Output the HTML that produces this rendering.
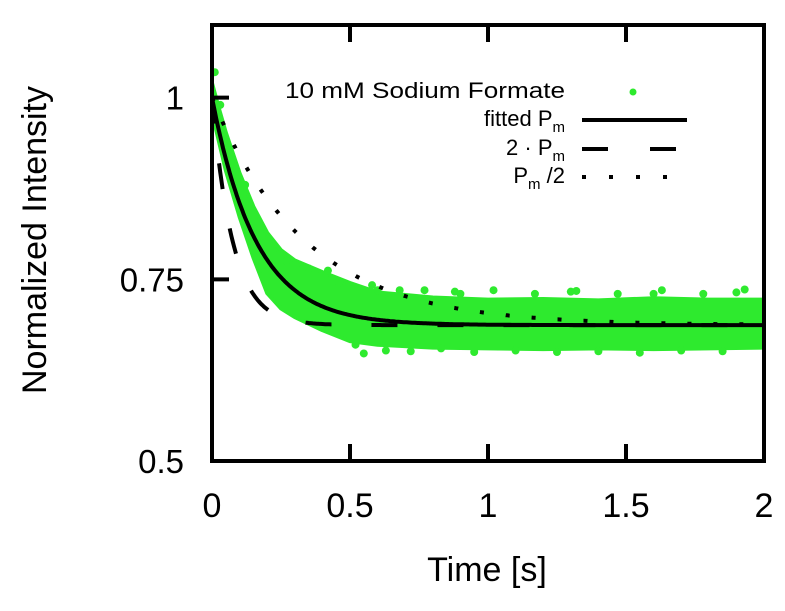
<!DOCTYPE html>
<html><head><meta charset="utf-8"><style>
body{margin:0;background:#fff}
svg{display:block;font-family:"Liberation Sans",sans-serif}
</style></head><body>
<svg id="chart" width="785" height="611" viewBox="0 0 785 611"></svg>
<script>
// data
const xTicks=[0,0.5,1,1.5,2];
const xTickLabels=["0","0.5","1","1.5","2"];
const yTicks=[0.5,0.75,1];
const yTickLabels=["0.5","0.75","1"];
const bandT=[0,0.025,0.05,0.1,0.15,0.2,0.25,0.3,0.4,0.5,0.6,0.8,1.0,1.2,1.4,1.6,1.8,2.0];
const bandUpper=[1.02,0.985,0.952,0.896,0.85,0.814,0.79,0.776,0.76,0.745,0.732,0.725,0.722,0.723,0.721,0.724,0.722,0.722];
const bandLower=[0.98,0.94,0.90,0.836,0.78,0.731,0.71,0.698,0.68,0.665,0.66,0.656,0.655,0.654,0.655,0.654,0.655,0.656];
const ptT=[0.01,0.03,0.12,0.18,0.22,0.27,0.33,0.35,0.42,0.46,0.52,0.55,0.58,0.63,0.68,0.72,0.77,0.83,0.88,0.95,1.02,1.1,1.17,1.25,1.32,1.4,1.47,1.55,1.63,1.7,1.78,1.85,1.93,0.6,0.9,1.3,1.6,1.9];
const ptV=[1.035,0.99,0.88,0.81,0.79,0.775,0.765,0.765,0.762,0.745,0.66,0.648,0.742,0.652,0.735,0.651,0.735,0.655,0.733,0.65,0.735,0.652,0.73,0.65,0.734,0.651,0.73,0.649,0.735,0.652,0.73,0.651,0.736,0.735,0.73,0.733,0.73,0.732];
const fitPlateau=[0.687];
const fitTau=[0.16,0.075,0.34]; // fitted, 2*Pm, Pm/2
const fitStart=[1.0];

const svg=document.getElementById('chart');
const NS='http://www.w3.org/2000/svg';
const L=212,R=764,T=25,B=461;
const X0=0,X1=2,Y0=0.5,Y1=1.1;
const sx=t=>L+(t-X0)/(X1-X0)*(R-L);
const sy=v=>B-(v-Y0)/(Y1-Y0)*(B-T);
function el(tag,attrs,parent){const e=document.createElementNS(NS,tag);for(const k in attrs)e.setAttribute(k,attrs[k]);(parent||svg).appendChild(e);return e;}

const clip=el('clipPath',{id:'pc'});el('rect',{x:L,y:T,width:R-L,height:B-T},clip);
const g=el('g',{'clip-path':'url(#pc)'});
const GREEN='#2eea2e';

let pts=bandT.map((t,i)=>sx(t)+','+sy(bandUpper[i]));
for(let i=bandT.length-1;i>=0;i--)pts.push(sx(bandT[i])+','+sy(bandLower[i]));
const band=el('polygon',{points:pts.join(' '),fill:GREEN,stroke:GREEN,'stroke-width':4,'stroke-linejoin':'round'},g);


ptT.forEach((t,i)=>{const c=el('circle',{cx:sx(t),cy:sy(ptV[i]),r:4,fill:GREEN},g);

});

function curve(tau){let d='';for(let i=0;i<=400;i++){const t=i/200;const v=fitPlateau[0]+(fitStart[0]-fitPlateau[0])*Math.exp(-t/tau);d+=(i?'L':'M')+sx(t).toFixed(1)+','+sy(v).toFixed(1);}return d;}
const dotted=el('path',{d:curve(fitTau[2]),fill:'none',stroke:'#000','stroke-width':4,'stroke-dasharray':'4 22'},g);


const dashed=el('path',{d:curve(fitTau[1]),fill:'none',stroke:'#000','stroke-width':4,'stroke-dasharray':'26 40'},g);


const solid=el('path',{d:curve(fitTau[0]),fill:'none',stroke:'#000','stroke-width':4},g);



const fr=el('rect',{x:L,y:T,width:R-L,height:B-T,fill:'none',stroke:'#000','stroke-width':4});



xTicks.forEach((t,i)=>{
  if(t>X0&&t<X1){el('line',{x1:sx(t),x2:sx(t),y1:B,y2:B-17,stroke:'#000','stroke-width':4});el('line',{x1:sx(t),x2:sx(t),y1:T,y2:T+17,stroke:'#000','stroke-width':4});}
  const tx=el('text',{x:sx(t),y:517,'font-size':34,'text-anchor':'middle',fill:'#000'});tx.textContent=xTickLabels[i];
  
  
});
yTicks.forEach((v,i)=>{
  if(v>Y0){el('line',{x1:L,x2:L+17,y1:sy(v),y2:sy(v),stroke:'#000','stroke-width':4});}
  const tx=el('text',{x:184,y:sy(v)+12,'font-size':33,'text-anchor':'end',fill:'#000'});tx.textContent=yTickLabels[i];
  
  
});
const xt=el('text',{x:487,y:581,'font-size':34,'text-anchor':'middle'});xt.textContent='Time [s]';


const yt=el('text',{x:0,y:0,'font-size':34,'text-anchor':'middle',transform:'translate(46,240) rotate(-90)'});yt.textContent='Normalized Intensity';



const lg=el('g',{});


const lt1=el('text',{x:565,y:98,'font-size':22,'text-anchor':'end',textLength:280,lengthAdjust:'spacingAndGlyphs'},lg);lt1.textContent='10 mM Sodium Formate';
el('circle',{cx:633,cy:92,r:3.5,fill:GREEN},lg);
const lt2=el('text',{x:565,y:126,'font-size':22,'text-anchor':'end'},lg);lt2.innerHTML='fitted P<tspan font-size="15" dy="6">m</tspan>';
el('line',{x1:582,x2:687,y1:120,y2:120,stroke:'#000','stroke-width':4},lg);
const lt3=el('text',{x:565,y:155,'font-size':22,'text-anchor':'end'},lg);lt3.innerHTML='2 · P<tspan font-size="15" dy="6">m</tspan>';
el('line',{x1:582,x2:690,y1:149,y2:149,stroke:'#000','stroke-width':4,'stroke-dasharray':'26 42'},lg);
const lt4=el('text',{x:565,y:183,'font-size':22,'text-anchor':'end'},lg);lt4.innerHTML='P<tspan font-size="15" dy="6">m</tspan><tspan dy="-6"> /2</tspan>';
el('line',{x1:582,x2:688,y1:177,y2:177,stroke:'#000','stroke-width':4,'stroke-dasharray':'4 23'},lg);
[lt1,lt2,lt3,lt4].forEach(t=>{});
</script>
</body></html>
